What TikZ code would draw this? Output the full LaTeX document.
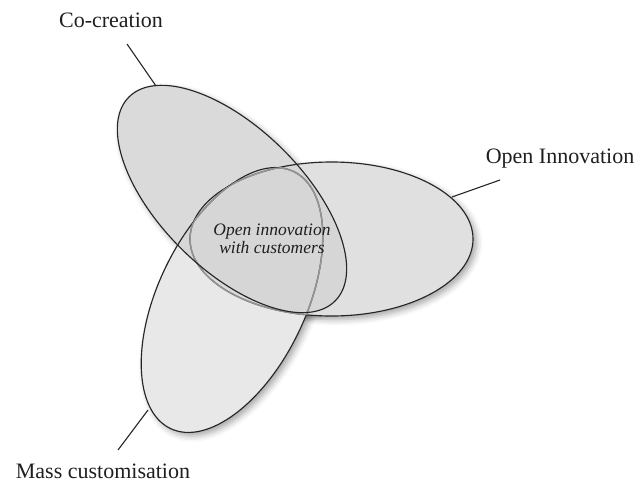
\documentclass[tikz,border=0pt]{standalone}
\usepackage{fontspec}
\setmainfont{Liberation Serif}
\usetikzlibrary{shadows.blur}
\newcommand\coP{(232,284) ellipse [x radius=145, y radius=71]}
\newcommand\oiP{(331.5,244) ellipse [x radius=141.5, y radius=77]}
\newcommand\mcP{(232,183) ellipse [x radius=142.5, y radius=74]}
\begin{document}
\begin{tikzpicture}[x=1pt,y=1pt,
  coT/.style={rotate around={-44.6:(232,284)}},
  mcT/.style={rotate around={64.4:(232,183)}},
  edge/.style={draw=black!85, line width=1.15pt},
  inneredge/.style={draw=black!42, line width=1.5pt},
  conn/.style={draw=black!85, line width=1.1pt},
  lbl/.style={font=\fontsize{22}{25}\selectfont, text=black!88, anchor=base, inner sep=0pt},
  centrelbl/.style={font=\fontsize{17.5}{18}\selectfont\itshape, text=black!88, align=center, inner sep=0pt},
  shad/.style={blur shadow={shadow xshift=0pt, shadow yshift=0pt, shadow blur radius=6pt, shadow opacity=35}},
  fillc/.style={fill=black!16}
]
\useasboundingbox (0,0) rectangle (636,483);

% shadows
\begin{scope}[xshift=3.5pt, yshift=-3.5pt]
  \path[mcT, shad] \mcP;
  \path[shad] \oiP;
  \path[coT, shad] \coP;
\end{scope}

% white base
\fill[white, mcT] \mcP;
\fill[white] \oiP;
\fill[white, coT] \coP;

% tinted fills
\fill[fillc, fill opacity=0.56, mcT] \mcP;
\fill[fillc, fill opacity=0.75] \oiP;
\fill[fillc, fill opacity=0.9, coT] \coP;

% outlines
\draw[edge, mcT] \mcP;
\draw[edge] \oiP;
\begin{scope}
  \clip \oiP;
  \draw[inneredge, mcT] \mcP;
\end{scope}
\begin{scope}
  \clip[mcT] \mcP;
  \draw[inneredge] \oiP;
\end{scope}
\draw[edge, coT] \coP;

% labels
\node[lbl] (co) at (111,455) {Co-creation};
\node[lbl] (oi) at (560,320) {Open Innovation};
\node[lbl] (mc) at (103,5) {Mass customisation};
\node[centrelbl] (oic) at (272,244) {Open innovation\\with customers};

% connectors
\coordinate (coEnd) at (127,439);
\coordinate (coTip) at (156,397);
\coordinate (oiEnd) at (500,303);
\coordinate (oiTip) at (452,286);
\coordinate (mcEnd) at (118,33);
\coordinate (mcTip) at (148,73);
\draw[conn] (coEnd) -- (coTip);
\draw[conn] (oiEnd) -- (oiTip);
\draw[conn] (mcEnd) -- (mcTip);
\end{tikzpicture}
\end{document}
